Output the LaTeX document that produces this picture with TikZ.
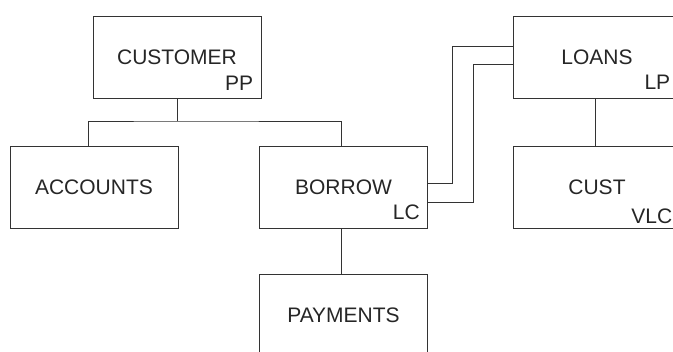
\documentclass[tikz,border=0pt]{standalone}
\usepackage{fontspec}
\setmainfont{Liberation Sans}
\begin{document}
\begin{tikzpicture}[x=1pt,y=1pt,
  ent/.style={draw=black!80, line width=0.9pt, rectangle, minimum width=168pt, minimum height=82pt, inner sep=0pt, font=\fontsize{21}{25}\selectfont, text=black!85},
  sub/.style={anchor=base east, inner sep=0pt, font=\fontsize{21}{25}\selectfont, text=black!85},
  link/.style={draw=black!80, line width=0.9pt}]
\clip (0,0) rectangle (673,352);
\node[ent] (cust) at (177,295) {CUSTOMER};
\node[ent] (acc) at (94,165) {ACCOUNTS};
\node[ent] (bor) at (343.5,165) {BORROW};
\node[ent] (pay) at (343.5,37) {PAYMENTS};
\node[ent] (loans) at (597,295) {LOANS};
\node[ent] (cst) at (597,165) {CUST};
\node[sub] (pp) at ([xshift=-8pt,yshift=8pt]cust.south east) {PP};
\node[sub] (lc) at ([xshift=-8pt,yshift=9pt]bor.south east) {LC};
\node[sub] (lp) at ([xshift=-11pt,yshift=9pt]loans.south east) {LP};
\node[sub] (vlc) at ([xshift=-9pt,yshift=5pt]cst.south east) {VLC};
\coordinate (j) at (178,231);
\draw[link] (cust.south) -- (cust.south |- j);
\draw[link] ([xshift=-6pt]acc.north) |- (j) -| ([xshift=-2.5pt]bor.north);
\draw[link] ([xshift=-2.5pt]bor.south) -- ([xshift=-2.5pt]pay.north);
\draw[link] ([xshift=-2pt]loans.south) -- ([xshift=-2pt]cst.north);
\draw[link] ([yshift=4pt]bor.east) -- ++(24,0) |- ([yshift=11pt]loans.west);
\draw[link] ([yshift=-15pt]bor.east) -- ++(45,0) |- ([yshift=-7pt]loans.west);
\end{tikzpicture}
\end{document}
